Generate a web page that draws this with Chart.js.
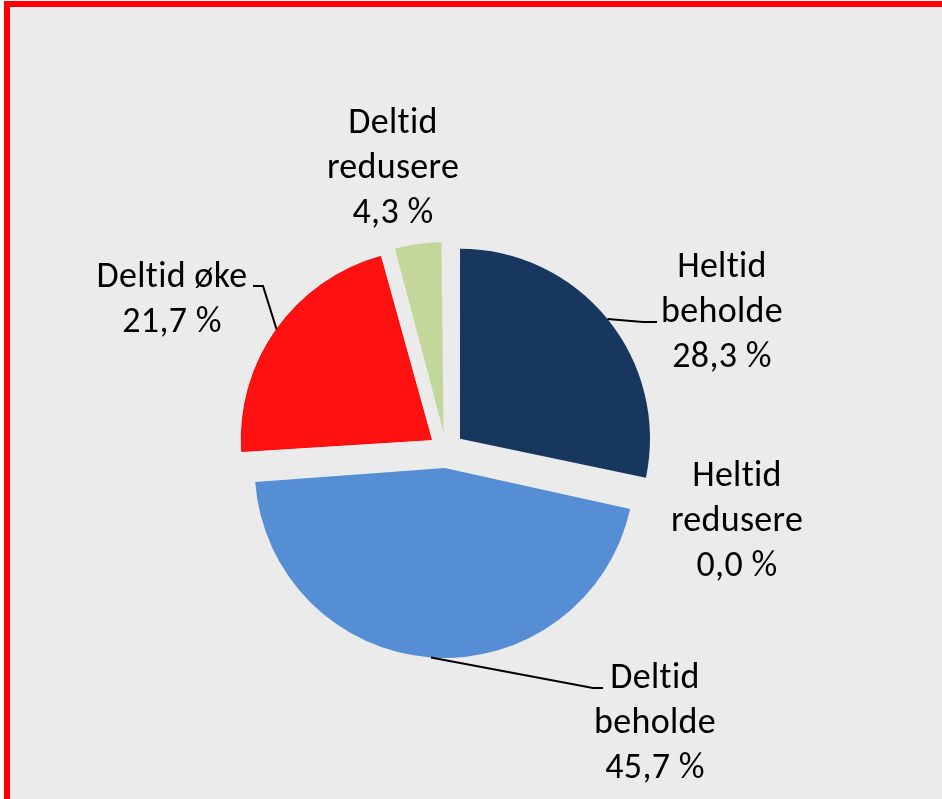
<!DOCTYPE html>
<html>
<head>
<meta charset="utf-8">
<script src="https://cdn.jsdelivr.net/npm/chart.js@4"></script>
<style>
  html, body { margin: 0; padding: 0; background: #fff; }
  canvas { display: block; }
</style>
</head>
<body>
<canvas id="pieChart" width="942" height="799"></canvas>
<script>
// Pie data, clockwise from 12 o'clock
const categories = ['Heltid beholde', 'Heltid redusere', 'Deltid beholde', 'Deltid øke', 'Deltid redusere'];
const labelLines = [['Heltid', 'beholde'], ['Heltid', 'redusere'], ['Deltid', 'beholde'], ['Deltid øke'], ['Deltid', 'redusere']];
const shares = [28.3, 0.0, 45.7, 21.7, 4.3];
const sliceColors = ['#18375f', '#4f81bd', '#558ed5', '#ff1111', '#c4d79b'];

const PIE_RADIUS = 190;
const EXPLODE = 18;
const FONT = '36px Carlito, Calibri, Lato, sans-serif';
const LINE_GAP = 45;

// label placement: centre x, first baseline, leader elbow + end (if any)
const LABEL_LAYOUT = [
  { x: 722, y: 277, leader: [[643, 322], [657, 322]] },
  { x: 737, y: 486 },
  { x: 655, y: 688, leader: [[593, 688], [603, 688]] },
  { x: 172, y: 287, leader: [[263, 286], [253, 286]] },
  { x: 393, y: 133 }
];

function formatShare(v) {
  return v.toFixed(1).replace('.', ',') + ' %';
}

// Chart.js grows the radius of exploded arcs by offset/4 * (1 - sin(circ)); undo it
const radiusFix = {
  id: 'radiusFix',
  afterDatasetsUpdate(chart) {
    chart.getDatasetMeta(0).data.forEach(arc => {
      const fix = 1 - Math.sin(Math.min(Math.PI, arc.circumference || 0));
      arc.outerRadius = PIE_RADIUS - EXPLODE * fix;
    });
  }
};

const frame = {
  id: 'frame',
  beforeDraw(chart) {
    const ctx = chart.ctx;
    ctx.save();
    ctx.fillStyle = '#ffffff';
    ctx.fillRect(0, 0, chart.width, chart.height);
    ctx.fillStyle = '#ebebeb';
    ctx.fillRect(4, 1, chart.width, chart.height);
    ctx.restore();
  },
  afterDraw(chart) {
    const ctx = chart.ctx;
    ctx.save();
    ctx.strokeStyle = '#ff0000';
    ctx.lineWidth = 6;
    ctx.strokeRect(7, 4, chart.width + 10, chart.height);
    ctx.restore();
  }
};

const sliceLabels = {
  id: 'sliceLabels',
  afterDatasetsDraw(chart) {
    const ctx = chart.ctx;
    const arcs = chart.getDatasetMeta(0).data;
    ctx.save();
    ctx.fillStyle = '#000';
    ctx.strokeStyle = '#000';
    ctx.lineWidth = 2;
    ctx.font = FONT;
    ctx.letterSpacing = '0.3px'; // keeps Lato from joining "ti"
    ctx.textAlign = 'center';
    ctx.textBaseline = 'alphabetic';

    LABEL_LAYOUT.forEach((lay, i) => {
      const lines = labelLines[i].concat([formatShare(shares[i])]);
      lines.forEach((txt, k) => ctx.fillText(txt, lay.x, lay.y + k * LINE_GAP));

      if (lay.leader) {
        const arc = arcs[i];
        const mid = (arc.startAngle + arc.endAngle) / 2;
        const r = PIE_RADIUS + EXPLODE;
        ctx.beginPath();
        ctx.moveTo(arc.x + Math.cos(mid) * r, arc.y + Math.sin(mid) * r);
        lay.leader.forEach(p => ctx.lineTo(p[0], p[1]));
        ctx.stroke();
      }
    });
    ctx.restore();
  }
};

new Chart(document.getElementById('pieChart'), {
  type: 'pie',
  data: {
    labels: categories,
    datasets: [{
      data: shares,
      backgroundColor: sliceColors,
      borderColor: '#ff0000',
      borderWidth: [0, 0, 0, 1, 0],
      offset: EXPLODE * 4,
      hoverOffset: 0
    }]
  },
  options: {
    responsive: false,
    animation: false,
    events: [],
    radius: PIE_RADIUS,
    layout: { padding: { left: 0, right: 50, top: 101, bottom: 0 } },
    plugins: {
      legend: { display: false },
      tooltip: { enabled: false }
    }
  },
  plugins: [radiusFix, frame, sliceLabels]
});
</script>
</body>
</html>
